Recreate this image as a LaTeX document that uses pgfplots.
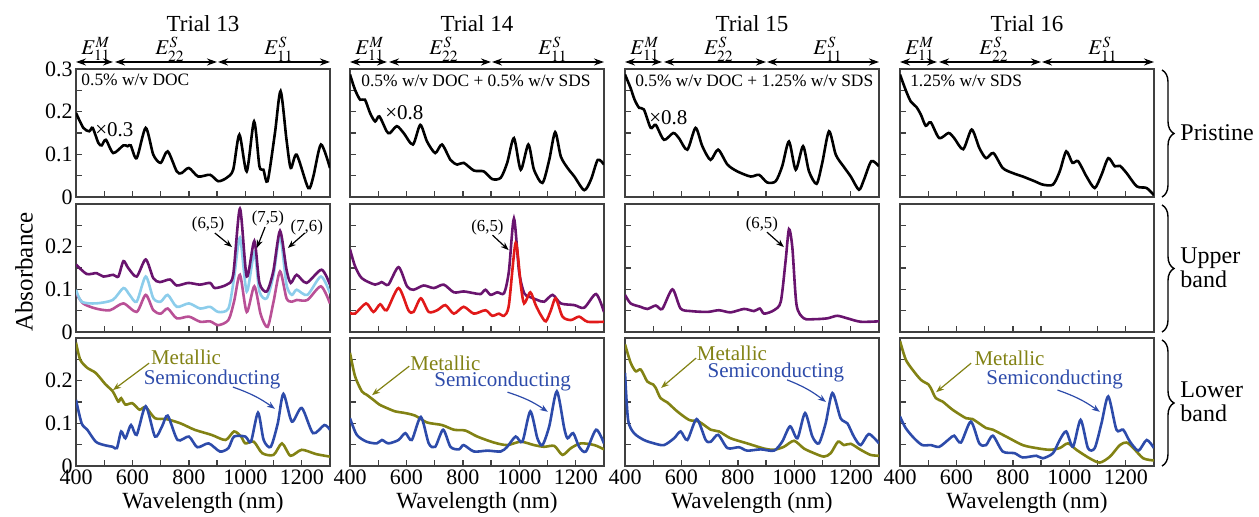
\documentclass[border=0pt]{standalone}
\usepackage{mathptmx}
\usepackage[no-math]{fontspec}
\setmainfont{Liberation Serif}
\usepackage{pgfplots}
\pgfplotsset{compat=1.18}
\usetikzlibrary{arrows.meta,decorations.pathreplacing}

\definecolor{dpurple}{RGB}{105,20,110}
\definecolor{lblue}{RGB}{140,205,235}
\definecolor{mpink}{RGB}{185,80,150}
\definecolor{sred}{RGB}{225,25,25}
\definecolor{olv}{RGB}{130,130,20}
\definecolor{sblue}{RGB}{45,75,170}

\newcommand{\fs}[1]{\fontsize{#1}{#1}\selectfont}

\tikzset{ann/.style={line width=0.6pt, -{Stealth[length=4pt,width=3pt]}}}

\pgfplotsset{
  panel/.style={
    scale only axis, width=127pt, height=64pt, anchor=south west,
    xmin=400, xmax=1300, ymin=0, ymax=0.3,
    xtick={400,500,...,1300}, ytick={0,0.05,0.1,0.15,0.2,0.25,0.3},
    xticklabels={}, yticklabels={},
    tick align=inside, tick pos=left,
    major tick length=2.8pt,
    axis line style={line width=1pt, black!75},
    every tick/.style={line width=0.7pt, black!75},
    tick label style={font=\fs{11}, inner sep=1.5pt},
    clip mode=individual,
  },
  bottomrow/.style={xticklabels={400,,600,,800,,1000,,1200,}},
  spec/.style={line width=1.3pt, smooth, tension=0.45, no markers},
}

\begin{document}
\begin{tikzpicture}
\useasboundingbox (0,0) rectangle (629.5pt,-258.5pt);

% ---------- Trial 13 ----------
\begin{axis}[panel, at={(38pt,-98.5pt)}, yticklabels={0,,0.1,,0.2,,0.3}]
\addplot[spec, black] coordinates {(400,0.197)(426,0.162)(447,0.154)(459,0.162)(479,0.127)(491,0.121)(506,0.134)(532,0.103)(568,0.121)(583,0.119)(594,0.121)(615,0.091)(647,0.162)(674,0.099)(700,0.080)(725,0.107)(757,0.060)(774,0.056)(800,0.068)(833,0.048)(875,0.052)(904,0.037)(934,0.045)(957,0.064)(979,0.146)(1005,0.060)(1031,0.177)(1050,0.072)(1064,0.064)(1079,0.037)(1105,0.150)(1125,0.248)(1146,0.134)(1161,0.068)(1182,0.099)(1223,0.021)(1241,0.048)(1268,0.123)(1300,0.068)};
\node[anchor=west, font=\fs{8.7}, inner sep=0] at (418,0.274) {0.5\% w/v DOC};
\node[anchor=west, font=\fs{10.5}, inner sep=0] at (467,0.157) {×0.3};
\end{axis}

\begin{axis}[panel, at={(38pt,-166pt)}, yticklabels={0,,0.1,,0.2,,}]
\addplot[spec, mpink] coordinates {(400,0.091)(425,0.067)(470,0.055)(520,0.051)(568,0.067)(615,0.047)(647,0.087)(674,0.051)(700,0.043)(725,0.055)(757,0.032)(800,0.036)(840,0.024)(875,0.025)(904,0.016)(940,0.028)(960,0.071)(981,0.134)(1005,0.047)(1032,0.107)(1055,0.040)(1079,0.012)(1100,0.071)(1123,0.142)(1146,0.079)(1165,0.071)(1182,0.075)(1220,0.075)(1268,0.107)(1300,0.067)};
\addplot[spec, lblue] coordinates {(400,0.099)(420,0.071)(470,0.067)(530,0.075)(568,0.103)(590,0.087)(615,0.071)(647,0.130)(674,0.079)(700,0.071)(725,0.087)(757,0.059)(800,0.067)(840,0.055)(875,0.059)(904,0.047)(940,0.055)(960,0.126)(981,0.221)(1005,0.095)(1032,0.186)(1050,0.095)(1076,0.079)(1100,0.134)(1123,0.225)(1146,0.111)(1165,0.087)(1182,0.099)(1220,0.087)(1268,0.130)(1300,0.091)};
\addplot[spec, dpurple] coordinates {(400,0.158)(438,0.136)(473,0.138)(497,0.130)(532,0.134)(550,0.130)(568,0.166)(585,0.150)(615,0.130)(647,0.170)(674,0.126)(697,0.117)(733,0.123)(757,0.109)(798,0.115)(839,0.111)(875,0.115)(892,0.103)(934,0.111)(957,0.134)(981,0.289)(1005,0.130)(1032,0.213)(1050,0.115)(1076,0.095)(1099,0.142)(1123,0.237)(1146,0.146)(1161,0.115)(1182,0.134)(1217,0.115)(1270,0.146)(1300,0.111)};
\node[font=\fs{8.4}, inner sep=0] at (868,0.251) {(6,5)};
\draw[ann] (892,0.232) -- (953,0.199);
\node[font=\fs{8.4}, inner sep=0] at (1080,0.267) {(7,5)};
\draw[ann] (1070,0.246) -- (1041,0.197);
\node[font=\fs{8.4}, inner sep=0] at (1218,0.246) {(7,6)};
\draw[ann] (1211,0.232) -- (1151,0.197);
\end{axis}

\begin{axis}[panel, bottomrow, at={(38pt,-233pt)}, yticklabels={0,,0.1,,0.2,,}]
\addplot[spec, olv] coordinates {(400,0.289)(415,0.249)(440,0.230)(470,0.218)(505,0.191)(530,0.175)(550,0.151)(560,0.159)(575,0.144)(600,0.147)(625,0.132)(647,0.138)(680,0.112)(720,0.110)(770,0.100)(820,0.085)(880,0.073)(930,0.061)(960,0.081)(985,0.069)(1000,0.053)(1030,0.057)(1060,0.030)(1100,0.026)(1130,0.053)(1160,0.024)(1200,0.038)(1250,0.028)(1300,0.022)};
\addplot[spec, sblue] coordinates {(400,0.155)(420,0.100)(440,0.085)(470,0.057)(500,0.049)(530,0.045)(545,0.042)(560,0.081)(575,0.065)(595,0.096)(615,0.073)(647,0.140)(680,0.069)(705,0.093)(725,0.118)(760,0.061)(800,0.069)(830,0.044)(870,0.053)(910,0.034)(940,0.042)(960,0.069)(1000,0.069)(1020,0.057)(1045,0.125)(1065,0.061)(1090,0.045)(1115,0.100)(1135,0.169)(1165,0.104)(1200,0.136)(1240,0.077)(1280,0.096)(1300,0.085)};
\node[olv, font=\fs{10.5}, inner sep=0] at (790,0.255) {Metallic};
\draw[ann, olv] (659,0.241) -- (531,0.178);
\node[sblue, font=\fs{10.5}, inner sep=0] at (882,0.202) {Semiconducting};
\draw[ann, sblue] (956,0.185) to[bend left=8] (1105,0.134);
\end{axis}

% ---------- Trial 14 ----------
\begin{axis}[panel, at={(175pt,-98.5pt)}]
\addplot[spec, black] coordinates {(400,0.287)(418,0.251)(436,0.228)(453,0.228)(471,0.197)(489,0.177)(504,0.189)(530,0.154)(542,0.150)(566,0.166)(590,0.150)(623,0.123)(649,0.169)(673,0.130)(702,0.103)(726,0.123)(756,0.087)(780,0.076)(803,0.080)(839,0.062)(874,0.060)(904,0.042)(934,0.045)(957,0.080)(981,0.138)(1005,0.064)(1032,0.123)(1052,0.064)(1082,0.033)(1106,0.087)(1127,0.152)(1147,0.095)(1171,0.068)(1195,0.048)(1230,0.016)(1254,0.041)(1278,0.087)(1300,0.076)};
\node[anchor=west, font=\fs{8.7}, inner sep=0] at (439,0.272) {0.5\% w/v DOC + 0.5\% w/v SDS};
\node[anchor=west, font=\fs{10.5}, inner sep=0] at (524,0.197) {×0.8};
\end{axis}

\begin{axis}[panel, at={(175pt,-166pt)}]
\addplot[spec, dpurple] coordinates {(400,0.194)(418,0.154)(442,0.126)(489,0.111)(512,0.117)(536,0.111)(572,0.152)(602,0.107)(625,0.099)(661,0.109)(697,0.103)(732,0.111)(768,0.093)(803,0.095)(839,0.091)(863,0.089)(880,0.099)(898,0.087)(922,0.093)(946,0.091)(963,0.142)(981,0.266)(999,0.142)(1017,0.091)(1035,0.083)(1064,0.075)(1088,0.071)(1118,0.087)(1147,0.067)(1195,0.063)(1230,0.057)(1272,0.089)(1300,0.047)};
\addplot[spec, sred] coordinates {(400,0.045)(418,0.043)(457,0.067)(483,0.047)(507,0.065)(530,0.051)(572,0.103)(607,0.051)(625,0.047)(651,0.079)(679,0.047)(709,0.051)(738,0.063)(768,0.043)(803,0.059)(839,0.043)(880,0.051)(904,0.038)(928,0.043)(946,0.038)(963,0.063)(987,0.209)(1005,0.111)(1017,0.067)(1039,0.093)(1058,0.063)(1076,0.040)(1094,0.025)(1112,0.051)(1129,0.079)(1153,0.036)(1183,0.028)(1212,0.036)(1242,0.024)(1300,0.024)};
\node[font=\fs{8.4}, inner sep=0] at (887,0.246) {(6,5)};
\draw[ann] (905,0.227) -- (962,0.192);
\end{axis}

\begin{axis}[panel, bottomrow, at={(175pt,-233pt)}]
\addplot[spec, olv] coordinates {(400,0.265)(418,0.210)(442,0.175)(459,0.167)(483,0.155)(504,0.144)(530,0.136)(560,0.128)(596,0.124)(631,0.118)(673,0.102)(726,0.096)(768,0.085)(809,0.083)(851,0.069)(910,0.055)(957,0.049)(1005,0.057)(1052,0.049)(1088,0.045)(1124,0.047)(1153,0.026)(1183,0.042)(1218,0.053)(1266,0.049)(1300,0.039)};
\addplot[spec, sblue] coordinates {(400,0.112)(424,0.073)(459,0.057)(495,0.053)(513,0.061)(536,0.053)(572,0.061)(596,0.077)(619,0.061)(651,0.115)(679,0.053)(702,0.045)(730,0.085)(756,0.045)(786,0.039)(803,0.049)(839,0.034)(887,0.036)(934,0.034)(957,0.045)(987,0.069)(1011,0.057)(1039,0.128)(1064,0.065)(1082,0.049)(1106,0.093)(1133,0.175)(1159,0.089)(1171,0.065)(1191,0.077)(1212,0.045)(1236,0.034)(1272,0.085)(1300,0.053)};
\node[olv, font=\fs{10.5}, inner sep=0] at (738,0.241) {Metallic};
\draw[ann, olv] (610,0.234) -- (478,0.166);
\node[sblue, font=\fs{10.5}, inner sep=0] at (941,0.197) {Semiconducting};
\draw[ann, sblue] (958,0.173) to[bend left=8] (1101,0.127);
\end{axis}

% ---------- Trial 15 ----------
\begin{axis}[panel, at={(312.5pt,-98.5pt)}]
\addplot[spec, black] coordinates {(400,0.287)(420,0.255)(434,0.228)(450,0.209)(467,0.205)(491,0.162)(509,0.169)(538,0.134)(571,0.150)(591,0.138)(621,0.111)(650,0.162)(674,0.119)(703,0.087)(730,0.111)(763,0.076)(798,0.060)(845,0.048)(875,0.052)(904,0.034)(934,0.037)(957,0.072)(981,0.130)(1005,0.064)(1031,0.119)(1052,0.060)(1079,0.031)(1099,0.080)(1123,0.154)(1147,0.099)(1174,0.072)(1200,0.048)(1229,0.017)(1247,0.041)(1273,0.084)(1300,0.072)};
\node[anchor=west, font=\fs{8.7}, inner sep=0] at (435,0.272) {0.5\% w/v DOC + 1.25\% w/v SDS};
\node[anchor=west, font=\fs{10.5}, inner sep=0] at (485,0.185) {×0.8};
\end{axis}

\begin{axis}[panel, at={(312.5pt,-166pt)}]
\addplot[spec, dpurple] coordinates {(400,0.087)(420,0.067)(455,0.059)(479,0.054)(509,0.062)(532,0.054)(568,0.100)(597,0.055)(633,0.049)(692,0.047)(733,0.051)(774,0.046)(822,0.054)(857,0.049)(878,0.055)(893,0.043)(928,0.051)(952,0.071)(969,0.166)(981,0.241)(993,0.198)(1008,0.063)(1034,0.032)(1070,0.030)(1117,0.032)(1152,0.038)(1188,0.032)(1235,0.024)(1300,0.025)};
\node[font=\fs{8.4}, inner sep=0] at (885,0.251) {(6,5)};
\draw[ann] (903,0.234) -- (963,0.199);
\end{axis}

\begin{axis}[panel, bottomrow, at={(312.5pt,-233pt)}]
\addplot[spec, olv] coordinates {(400,0.285)(420,0.242)(438,0.222)(456,0.226)(479,0.198)(500,0.191)(509,0.183)(526,0.159)(550,0.149)(585,0.128)(627,0.108)(662,0.104)(704,0.085)(733,0.081)(774,0.065)(833,0.053)(892,0.041)(928,0.038)(963,0.045)(999,0.059)(1034,0.041)(1070,0.030)(1105,0.022)(1129,0.030)(1155,0.057)(1176,0.049)(1200,0.052)(1235,0.038)(1270,0.026)(1300,0.024)};
\addplot[spec, sblue] coordinates {(400,0.218)(411,0.108)(432,0.077)(467,0.061)(503,0.053)(538,0.049)(574,0.065)(597,0.081)(621,0.061)(654,0.110)(686,0.061)(704,0.057)(730,0.073)(763,0.042)(804,0.044)(833,0.036)(881,0.039)(928,0.036)(957,0.057)(985,0.093)(1011,0.065)(1038,0.124)(1064,0.069)(1087,0.053)(1111,0.100)(1135,0.171)(1164,0.112)(1188,0.100)(1211,0.069)(1235,0.049)(1264,0.075)(1300,0.053)};
\node[olv, font=\fs{10.5}, inner sep=0] at (779,0.265) {Metallic};
\draw[ann, olv] (652,0.253) -- (528,0.183);
\node[sblue, font=\fs{10.5}, inner sep=0] at (935,0.220) {Semiconducting};
\draw[ann, sblue] (974,0.202) to[bend left=8] (1112,0.150);
\end{axis}

% ---------- Trial 16 ----------
\begin{axis}[panel, at={(450pt,-98.5pt)}]
\addplot[spec, black] coordinates {(400,0.287)(420,0.251)(438,0.224)(458,0.211)(474,0.193)(491,0.167)(509,0.175)(539,0.138)(572,0.150)(592,0.138)(624,0.112)(654,0.158)(681,0.115)(705,0.091)(731,0.103)(764,0.068)(800,0.056)(835,0.048)(877,0.037)(906,0.029)(942,0.029)(966,0.060)(989,0.107)(1011,0.080)(1031,0.084)(1061,0.048)(1090,0.021)(1114,0.052)(1138,0.091)(1161,0.072)(1179,0.073)(1203,0.056)(1239,0.025)(1274,0.021)(1300,0.004)};
\node[anchor=west, font=\fs{8.7}, inner sep=0] at (435,0.272) {1.25\% w/v SDS};
\end{axis}

\begin{axis}[panel, at={(450pt,-166pt)}]
\end{axis}

\begin{axis}[panel, bottomrow, at={(450pt,-233pt)}]
\addplot[spec, olv] coordinates {(400,0.293)(420,0.250)(444,0.226)(474,0.202)(501,0.191)(509,0.183)(527,0.159)(551,0.151)(586,0.132)(634,0.112)(657,0.110)(705,0.089)(729,0.085)(776,0.069)(835,0.049)(883,0.042)(930,0.038)(966,0.042)(995,0.053)(1025,0.038)(1072,0.018)(1108,0.008)(1144,0.022)(1179,0.049)(1203,0.055)(1227,0.042)(1262,0.018)(1300,0.013)};
\addplot[spec, sblue] coordinates {(400,0.116)(420,0.089)(450,0.065)(479,0.049)(509,0.049)(539,0.045)(574,0.063)(592,0.071)(616,0.055)(651,0.104)(681,0.053)(705,0.049)(729,0.071)(764,0.034)(806,0.030)(835,0.020)(883,0.024)(906,0.018)(942,0.030)(966,0.061)(989,0.081)(1013,0.045)(1040,0.108)(1066,0.042)(1090,0.042)(1114,0.100)(1138,0.163)(1167,0.085)(1191,0.085)(1215,0.057)(1245,0.036)(1274,0.061)(1300,0.042)};
\node[olv, font=\fs{10.5}, inner sep=0] at (788,0.253) {Metallic};
\draw[ann, olv] (652,0.241) -- (528,0.173);
\node[sblue, font=\fs{10.5}, inner sep=0] at (948,0.202) {Semiconducting};
\draw[ann, sblue] (958,0.178) to[bend left=8] (1108,0.127);
\end{axis}

% ---------- decorations in pixel units ----------
\begin{scope}[x=0.5pt, y=-0.5pt]
\foreach \o/\t in {0/13, 274/14, 549/15, 824/16} {
  \node[font=\fs{11.5}] at ({203+\o},24) {Trial \t};
  \node[font=\fs{10.5}, inner sep=0] at ({96+\o},49) {$E_{11}^{M}$};
  \node[font=\fs{10.5}, inner sep=0] at ({170+\o},49) {$E_{22}^{S}$};
  \node[font=\fs{10.5}, inner sep=0] at ({279+\o},49) {$E_{11}^{S}$};
  \draw[line width=0.8pt, {Stealth[length=5pt,width=3.5pt]}-{Stealth[length=5pt,width=3.5pt]}] ({76+\o},62) -- ({113+\o},62);
  \draw[line width=0.8pt, {Stealth[length=5pt,width=3.5pt]}-{Stealth[length=5pt,width=3.5pt]}] ({115+\o},62) -- ({217+\o},62);
  \draw[line width=0.8pt, {Stealth[length=5pt,width=3.5pt]}-{Stealth[length=5pt,width=3.5pt]}] ({218+\o},62) -- ({330+\o},62);
  \node[font=\fs{11.6}] at ({203+\o},503) {Wavelength (nm)};
}
\node[font=\fs{12.5}, rotate=90] at (24,272) {Absorbance};
\foreach \a/\b in {70/197, 205/332, 340/466} {
  \draw[line width=0.7pt, decorate, decoration={brace, amplitude=6pt}] (1162,\a) -- (1162,\b);
}
\node[font=\fs{12}, anchor=west, inner sep=0] at (1180,133) {Pristine};
\node[font=\fs{12}, anchor=west, inner sep=0, align=left] at (1180,268) {Upper\\band};
\node[font=\fs{12}, anchor=west, inner sep=0, align=left] at (1180,402) {Lower\\band};
\end{scope}
\end{tikzpicture}
\end{document}
